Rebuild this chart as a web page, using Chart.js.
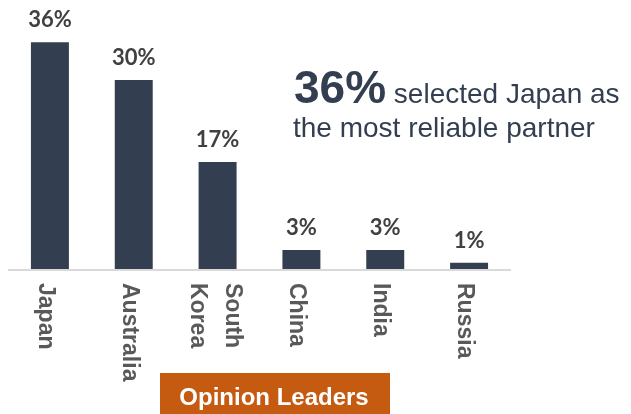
<!DOCTYPE html>
<html>
<head>
<meta charset="utf-8">
<script src="https://cdn.jsdelivr.net/npm/chart.js@4"></script>
<style>
    html, body { margin: 0; padding: 0; background: #FFFFFF; }
    #wrap { width: 631px; height: 414px; position: relative; }
</style>
</head>
<body>
<div id="wrap"><canvas id="reliableChart"></canvas></div>
<script>
// Chart data
const categories = ['Japan', 'Australia', ['South', 'Korea'], 'China', 'India', 'Russia'];
const shares = [36, 30, 17, 3, 3, 1];
const valueLabels = ['36%', '30%', '17%', '3%', '3%', '1%'];
const yRange = [0, 40];

const headlineBig = '36%';
const headlineRest = ' selected Japan as';
const headlineLine2 = 'the most reliable partner';
const boxLabel = 'Opinion Leaders';

const BAR_COLOR = '#333F50';
const LABEL_GRAY = '#595959';
const VALUE_GRAY = '#404040';
const AXIS_GRAY = '#D9D9D9';
const ORANGE = '#C55A11';

/**
 * Baseline axis line under the bars
 */
const axisLinePlugin = {
    id: 'axisLine',
    beforeDatasetsDraw(chart) {
        const { ctx, chartArea } = chart;
        ctx.save();
        ctx.strokeStyle = AXIS_GRAY;
        ctx.lineWidth = 2;
        ctx.beginPath();
        ctx.moveTo(chartArea.left, chartArea.bottom + 1);
        ctx.lineTo(chartArea.right, chartArea.bottom + 1);
        ctx.stroke();
        ctx.restore();
    }
};

/**
 * Value labels above bars + category labels rotated clockwise below the axis
 */
const barLabelsPlugin = {
    id: 'barLabels',
    afterDatasetsDraw(chart) {
        const { ctx, chartArea } = chart;
        const meta = chart.getDatasetMeta(0);
        const xScale = chart.scales.x;

        ctx.save();
        ctx.fillStyle = VALUE_GRAY;
        ctx.font = "bold 22px Lato, 'Open Sans', sans-serif";
        ctx.textAlign = 'center';
        ctx.textBaseline = 'alphabetic';
        meta.data.forEach((bar, i) => {
            ctx.fillText(valueLabels[i], bar.x, bar.y - 15);
        });
        ctx.restore();

        ctx.save();
        ctx.fillStyle = LABEL_GRAY;
        ctx.font = "bold 23px 'Liberation Sans', Arial, sans-serif";
        ctx.textAlign = 'left';
        ctx.textBaseline = 'alphabetic';
        categories.forEach((cat, i) => {
            const cx = xScale.getPixelForValue(i);
            const lines = Array.isArray(cat) ? cat : [cat];
            ctx.save();
            ctx.translate(cx, chartArea.bottom + 14);
            ctx.rotate(Math.PI / 2);
            if (lines.length === 1) {
                ctx.fillText(lines[0], 0, 11);
            } else {
                // first line sits on the right, second on the left
                ctx.fillText(lines[0], 0, -8);
                ctx.fillText(lines[1], 0, 27);
            }
            ctx.restore();
        });
        ctx.restore();
    }
};

/**
 * Headline text and the orange caption box
 */
const annotationsPlugin = {
    id: 'annotations',
    afterDraw(chart) {
        const { ctx } = chart;
        ctx.save();
        ctx.fillStyle = BAR_COLOR;
        ctx.textAlign = 'left';
        ctx.textBaseline = 'alphabetic';
        ctx.font = "bold 46px 'Liberation Sans', Arial, sans-serif";
        ctx.fillText(headlineBig, 294, 103);
        const bigW = ctx.measureText(headlineBig).width;
        ctx.font = "28px 'Liberation Sans', Arial, sans-serif";
        ctx.fillText(headlineRest, 294 + bigW, 103);
        ctx.fillText(headlineLine2, 293, 137);

        ctx.fillStyle = ORANGE;
        ctx.fillRect(160, 373, 230, 41);
        ctx.fillStyle = '#FFFFFF';
        ctx.font = "bold 24px 'Liberation Sans', Arial, sans-serif";
        ctx.textAlign = 'center';
        ctx.fillText(boxLabel, 274, 405);
        ctx.restore();
    }
};

const ctx = document.getElementById('reliableChart').getContext('2d');
new Chart(ctx, {
    type: 'bar',
    data: {
        labels: categories,
        datasets: [{
            data: shares,
            backgroundColor: BAR_COLOR,
            borderWidth: 0,
            categoryPercentage: 1.0,
            barPercentage: 0.453
        }]
    },
    options: {
        responsive: true,
        maintainAspectRatio: false,
        animation: false,
        layout: { padding: { left: 8, right: 120, top: 17, bottom: 145 } },
        plugins: {
            legend: { display: false },
            tooltip: { enabled: false }
        },
        scales: {
            x: { display: false },
            y: { display: false, min: yRange[0], max: yRange[1] }
        }
    },
    plugins: [axisLinePlugin, barLabelsPlugin, annotationsPlugin]
});
</script>
</body>
</html>
